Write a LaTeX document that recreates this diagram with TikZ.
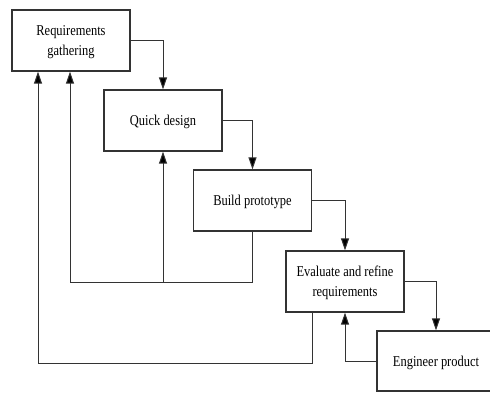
\documentclass[tikz,border=0pt]{standalone}
\usepackage{fontspec}
\setmainfont{Liberation Serif}[FakeStretch=0.83]
\usetikzlibrary{arrows.meta, calc}

\begin{document}
\begin{tikzpicture}[x=1pt, y=-1pt,
	stage/.style = {draw=black!80, line width=1.2pt, minimum width=118pt, minimum height=61pt,
		inner sep=0pt, text depth=0pt, align=center, font=\fontsize{15}{20}\selectfont},
	flow/.style = {draw=black!80, line width=1pt, -{Triangle[length=12pt, width=8pt, fill=black]}}
]
\useasboundingbox (0, 0) rectangle (490, 392);

\node[stage] (req)   at (71, 40.5)    {Requirements\\gathering};
\node[stage] (quick) at (163, 120.5)  {Quick design};
\node[stage] (build) at (252.5, 200.5) {Build prototype};
\node[stage] (eval)  at (345, 281.5)  {Evaluate and refine\\requirements};
\node[stage, minimum height=60pt] (eng) at (436, 361) {Engineer product};

\coordinate (loopa) at (70, 282);
\coordinate (loopb) at (38, 363);

% forward steps
\draw[flow] (req.east) -| (quick.north);
\draw[flow] (quick.east) -| (build.north);
\draw[flow] (build.east) -| (eval.north);
\draw[flow] (eval.east) -| (eng.north);

% feedback
\draw[flow] (build.south) |- (loopa) -- (loopa |- req.south);
\draw[flow] (loopa -| quick.south) -- (quick.south);
\draw[flow] ([xshift=27pt]eval.south west) |- (loopb) -- (loopb |- req.south);
\draw[flow] (eng.west) -| (eval.south);
\end{tikzpicture}
\end{document}
